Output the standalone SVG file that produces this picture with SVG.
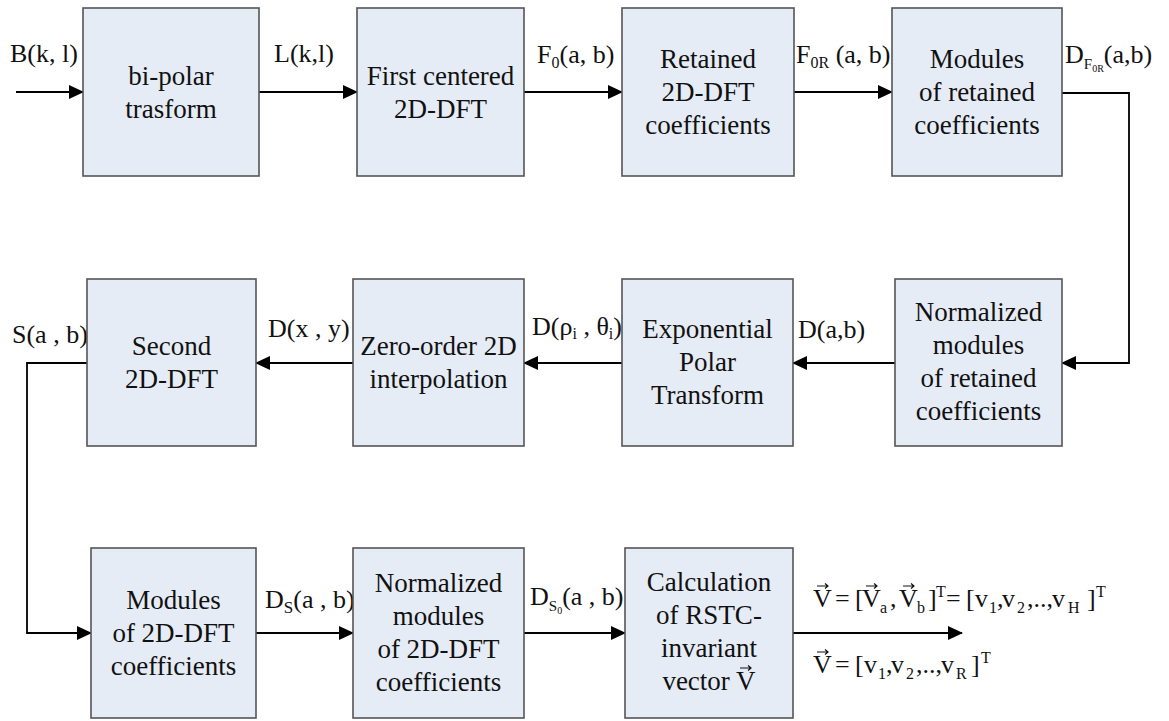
<svg xmlns="http://www.w3.org/2000/svg" width="1169" height="721" viewBox="0 0 1169 721">
<style>
.box{fill:#E6ECF6;stroke:#555;stroke-width:1.6}
.lbl{font-family:"Liberation Serif","Times New Roman",serif;font-size:26px;fill:#111}
.nt{font-family:"Liberation Serif","Times New Roman",serif;font-size:27px;fill:#111;text-anchor:middle}
.ln{fill:none;stroke:#000;stroke-width:1.8}
.va{fill:none;stroke:#111;stroke-width:1.2}
</style>
<defs>
<marker id="ah" markerUnits="userSpaceOnUse" markerWidth="15" markerHeight="14" refX="14" refY="7" orient="auto">
<path d="M0,0 L15,7 L0,14 z" fill="#000"/>
</marker>
<path id="vec" d="M0,0 H11 M8,-2.5 L11,0 L8,2.5" class="va"/>
</defs>
<rect width="1169" height="721" fill="#fff"/>
<g id="connectors">
<line class="ln" x1="16" y1="92" x2="83" y2="92" marker-end="url(#ah)"/>
<line class="ln" x1="259" y1="92" x2="357" y2="92" marker-end="url(#ah)"/>
<line class="ln" x1="524" y1="92" x2="622" y2="92" marker-end="url(#ah)"/>
<line class="ln" x1="794" y1="92" x2="892" y2="92" marker-end="url(#ah)"/>
<polyline class="ln" points="1062,93 1129,93 1129,363 1062,363" marker-end="url(#ah)"/>
<line class="ln" x1="895" y1="363" x2="793" y2="363" marker-end="url(#ah)"/>
<line class="ln" x1="622" y1="363" x2="524" y2="363" marker-end="url(#ah)"/>
<line class="ln" x1="353" y1="363" x2="256" y2="363" marker-end="url(#ah)"/>
<polyline class="ln" points="87,363 27,363 27,633 91,633" marker-end="url(#ah)"/>
<line class="ln" x1="256" y1="633" x2="353" y2="633" marker-end="url(#ah)"/>
<line class="ln" x1="524" y1="633" x2="625" y2="633" marker-end="url(#ah)"/>
<line class="ln" x1="793" y1="633" x2="962" y2="633" marker-end="url(#ah)"/>
</g>
<g id="labels">
<text class="lbl" x="10" y="62">B(k, l)</text>
<text class="lbl" x="274" y="62">L(k,l)</text>
<text class="lbl" x="537" y="63">F<tspan font-size="16" dy="5">0</tspan><tspan dy="-5">(a, b)</tspan></text>
<text class="lbl" x="796" y="63">F<tspan font-size="16" dy="5">0R</tspan><tspan dy="-5"> (a, b)</tspan></text>
<text class="lbl" x="1065" y="63">D<tspan font-size="15" dy="6">F</tspan><tspan font-size="10" dy="3">0R</tspan><tspan dy="-9">(a,b)</tspan></text>
<text class="lbl" x="12" y="343">S(a , b)</text>
<text class="lbl" x="268" y="337">D(x , y)</text>
<text class="lbl" x="532" y="335">D(ρ<tspan font-size="16" dy="4">i</tspan><tspan dy="-4"> , θ</tspan><tspan font-size="16" dy="4">i</tspan><tspan dy="-4">)</tspan></text>
<text class="lbl" x="798" y="338">D(a,b)</text>
<text class="lbl" x="265" y="608">D<tspan font-size="17" dy="5">S</tspan><tspan dy="-5">(a , b)</tspan></text>
<text class="lbl" x="530" y="605">D<tspan font-size="15" dy="6">S</tspan><tspan font-size="10" dy="3">0</tspan><tspan dy="-9">(a , b)</tspan></text>
<text class="lbl" y="607"><tspan x="813">V</tspan><tspan x="835">=</tspan><tspan x="855">[</tspan><tspan x="862">V</tspan><tspan x="880" font-size="16" dy="6">a</tspan><tspan x="890" dy="-6">,</tspan><tspan x="899">V</tspan><tspan x="917" font-size="16" dy="6">b</tspan><tspan x="928" dy="-6">]</tspan><tspan x="936" font-size="16" dy="-10">T</tspan><tspan x="946" dy="10">=</tspan><tspan x="966">[</tspan><tspan x="975">v</tspan><tspan x="989" font-size="16" dy="6">1</tspan><tspan x="997" dy="-6">,</tspan><tspan x="1002">v</tspan><tspan x="1017" font-size="16" dy="6">2</tspan><tspan x="1027" dy="-6">,..,</tspan><tspan x="1052">v</tspan><tspan x="1068" font-size="16" dy="6">H</tspan><tspan x="1087" dy="-6">]</tspan><tspan x="1096" font-size="16" dy="-10">T</tspan></text>
<text class="lbl" y="673"><tspan x="813">V</tspan><tspan x="835">=</tspan><tspan x="855">[</tspan><tspan x="864">v</tspan><tspan x="878" font-size="16" dy="6">1</tspan><tspan x="886" dy="-6">,</tspan><tspan x="891">v</tspan><tspan x="906" font-size="16" dy="6">2</tspan><tspan x="916" dy="-6">,..,</tspan><tspan x="941">v</tspan><tspan x="956" font-size="16" dy="6">R</tspan><tspan x="971" dy="-6">]</tspan><tspan x="981" font-size="16" dy="-10">T</tspan></text>
<use href="#vec" x="817" y="586"/>
<use href="#vec" x="866" y="586"/>
<use href="#vec" x="903" y="586"/>
<use href="#vec" x="817" y="652"/>
</g>
<g id="n1"><rect class="box" x="83" y="8" width="176" height="168"/><text class="nt" x="171" y="85">bi-polar</text><text class="nt" x="171" y="118">trasform</text></g>
<g id="n2"><rect class="box" x="357" y="8" width="167" height="168"/><text class="nt" x="440.5" y="85">First centered</text><text class="nt" x="440.5" y="118">2D-DFT</text></g>
<g id="n3"><rect class="box" x="622" y="8" width="172" height="168"/><text class="nt" x="708" y="68">Retained</text><text class="nt" x="708" y="101">2D-DFT</text><text class="nt" x="708" y="134">coefficients</text></g>
<g id="n4"><rect class="box" x="892" y="8" width="170" height="168"/><text class="nt" x="977" y="68">Modules</text><text class="nt" x="977" y="101">of retained</text><text class="nt" x="977" y="134">coefficients</text></g>
<g id="n5"><rect class="box" x="895" y="279" width="167" height="167"/><text class="nt" x="978.5" y="321">Normalized</text><text class="nt" x="978.5" y="354">modules</text><text class="nt" x="978.5" y="387">of retained</text><text class="nt" x="978.5" y="420">coefficients</text></g>
<g id="n6"><rect class="box" x="622" y="279" width="171" height="167"/><text class="nt" x="707.5" y="338">Exponential</text><text class="nt" x="707.5" y="371">Polar</text><text class="nt" x="707.5" y="404">Transform</text></g>
<g id="n7"><rect class="box" x="353" y="279" width="171" height="167"/><text class="nt" x="438.5" y="355">Zero-order 2D</text><text class="nt" x="438.5" y="388">interpolation</text></g>
<g id="n8"><rect class="box" x="87" y="279" width="169" height="167"/><text class="nt" x="171.5" y="355">Second</text><text class="nt" x="171.5" y="388">2D-DFT</text></g>
<g id="n9"><rect class="box" x="91" y="548" width="165" height="170"/><text class="nt" x="173.5" y="609">Modules</text><text class="nt" x="173.5" y="642">of 2D-DFT</text><text class="nt" x="173.5" y="675">coefficients</text></g>
<g id="n10"><rect class="box" x="353" y="548" width="171" height="170"/><text class="nt" x="438.5" y="592">Normalized</text><text class="nt" x="438.5" y="625">modules</text><text class="nt" x="438.5" y="658">of 2D-DFT</text><text class="nt" x="438.5" y="691">coefficients</text></g>
<g id="n11"><rect class="box" x="625" y="548" width="168" height="170"/><text class="nt" x="709" y="591">Calculation</text><text class="nt" x="709" y="624">of RSTC-</text><text class="nt" x="709" y="657">invariant</text><text class="nt" x="709" y="690">vector V</text><use href="#vec" x="740" y="668"/></g>
</svg>
